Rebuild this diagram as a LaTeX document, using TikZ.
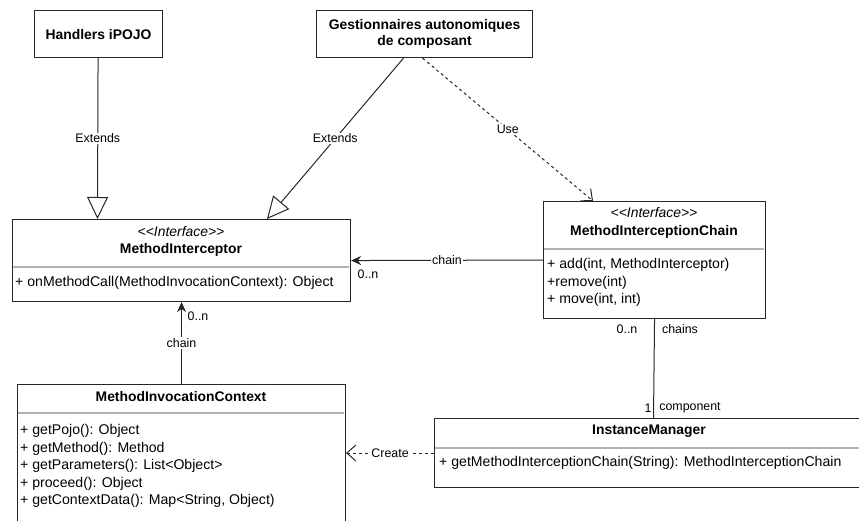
\documentclass[tikz,border=0pt]{standalone}
\usepackage{fontspec}
\setmainfont{Liberation Sans}
\usetikzlibrary{arrows.meta,calc}
\newcommand{\stereoname}[1]{\mbox{<}\mbox{<}#1\mbox{>}\mbox{>}}
\tikzset{
  box/.style={draw=black!85, line width=1.1pt, fill=white, inner sep=0pt, anchor=north west},
  sep/.style={draw=black!30, line width=1.3pt},
  boxtxt/.style={inner sep=0pt, font=\fontsize{14.1}{16}\selectfont},
  titletxt/.style={inner sep=0pt, font=\fontsize{13.9}{16.5}\selectfont\bfseries},
  stereo/.style={inner sep=0pt, font=\fontsize{13.9}{16}\selectfont\itshape},
  lbl/.style={inner sep=1pt, font=\fontsize{12.4}{14}\selectfont},
  lblbg/.style={lbl, fill=white},
  conn/.style={draw=black!85, line width=1pt},
  gen/.style={conn, -{Triangle[open, length=22pt, width=21pt, line width=1pt]}},
  dep/.style={conn, dash pattern=on 3pt off 3pt, -{Straight Barb[length=9pt, width=16pt, line width=1pt]}},
  nav/.style={conn, -{Stealth[length=10pt, width=9pt]}}
}
\begin{document}
\begin{tikzpicture}[x=1pt,y=-1pt]
\useasboundingbox (0,0) rectangle (859,521);
\clip (0,0) rectangle (859,521);

% Boxes
\node[box, minimum width=128pt, minimum height=47pt] (hand) at (34,10) {};
\node[titletxt] at (hand.center) {Handlers iPOJO};

\node[box, minimum width=216pt, minimum height=47pt] (gest) at (316,10) {};
\node[titletxt, align=center] at (gest.center) {Gestionnaires autonomiques\\de composant};

\node[box, minimum width=338pt, minimum height=82pt] (mi) at (12,219) {};
\node[stereo] at (181,232) {\stereoname{Interface}};
\node[titletxt] at (181,250) {MethodInterceptor};
\draw[sep] (12.6,267) -- (349.4,267);
\node[boxtxt, anchor=west] at (15,283) {+ onMethodCall(MethodInvocationContext): Object};

\node[box, minimum width=222pt, minimum height=117pt] (mic) at (543,201) {};
\node[stereo] at (654,213) {\stereoname{Interface}};
\node[titletxt] at (654,232) {MethodInterceptionChain};
\draw[sep] (543.6,249) -- (764.4,249);
\node[boxtxt, anchor=west] at (547,265) {+ add(int, MethodInterceptor)};
\node[boxtxt, anchor=west] at (547,283) {+remove(int)};
\node[boxtxt, anchor=west] at (547,300) {+ move(int, int)};

\node[box, minimum width=328pt, minimum height=160pt] (mcx) at (17,384) {};
\node[titletxt] at (181,397) {MethodInvocationContext};
\draw[sep] (17.6,413) -- (344.4,413);
\node[boxtxt, anchor=west] at (20,431) {+ getPojo(): Object};
\node[boxtxt, anchor=west] at (20,448.5) {+ getMethod(): Method};
\node[boxtxt, anchor=west] at (20,466) {+ getParameters(): List\mbox{<}Object\mbox{>}};
\node[boxtxt, anchor=west] at (20,483.5) {+ proceed(): Object};
\node[boxtxt, anchor=west] at (20,501) {+ getContextData(): Map\mbox{<}String, Object)};

\node[box, minimum width=430pt, minimum height=69pt] (im) at (434,418) {};
\node[titletxt] at (649,431) {InstanceManager};
\draw[sep] (434.6,448) -- (863,448);
\node[boxtxt, anchor=west] at (439,463) {+ getMethodInterceptionChain(String): MethodInterceptionChain};

% Generalisations
\draw[gen] ($(hand.south)+(-0.5,0)$) -- node[lblbg, pos=0.5] {Extends} ($(mi.north west)+(85.5,0)$);
\draw[gen] ($(gest.south)+(-21,0)$) -- node[lblbg, pos=0.5] {Extends} ($(mi.north west)+(255,0)$);

% Use dependency
\draw[dep] ($(gest.south)+(-2,0)$) -- node[lblbg, pos=0.5] {Use} ($(mic.north west)+(50,0)$);

% chain association MIC -> MI
\draw[nav] (mic.west) -- node[lblbg, pos=0.5] {chain} (mi.east);
\node[lbl] at (368,274) {0..n};

% chain association context -> MI
\draw[nav] (mcx.north) -- node[lblbg, pos=0.5] {chain} (mi.south);
\node[lbl] at (198,316) {0..n};

% chains / component
\draw[conn] (mic.south) -- ($(im.north west)+(219.5,0)$);
\node[lbl] at (627,329) {0..n};
\node[lbl] at (680,329) {chains};
\node[lbl] at (648,408) {1};
\node[lbl] at (690,408) {component};

% Create dependency
\draw[dep] ($(im.north west)+(0,35)$) -- node[lblbg, pos=0.5] {Create} ($(mcx.north east)+(0,69)$);
\end{tikzpicture}
\end{document}
